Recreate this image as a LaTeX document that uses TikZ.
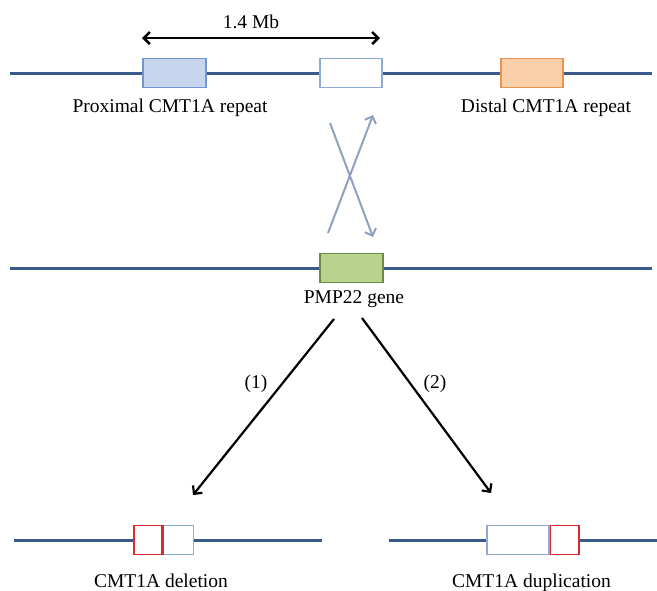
\documentclass[tikz,border=0pt]{standalone}
\usepackage{fontspec}
\setmainfont{Liberation Serif}
\usepackage{xcolor}
\usetikzlibrary{arrows.meta,positioning}

\definecolor{chromblue}{HTML}{3A5A8C}
\definecolor{proxfill}{HTML}{C6D6EF}
\definecolor{proxdraw}{HTML}{7196CF}
\definecolor{distfill}{HTML}{FBD0A9}
\definecolor{distdraw}{HTML}{E8944E}
\definecolor{genefill}{HTML}{B9D38F}
\definecolor{genedraw}{HTML}{6E8C3E}
\definecolor{crossgray}{HTML}{8FA0C0}
\definecolor{outblue}{HTML}{8EAAD6}
\definecolor{cutred}{HTML}{E0282E}

\begin{document}
\begin{tikzpicture}[
    x=1pt, y=-1pt,
    chrom/.style={chromblue, line width=3pt},
    gbox/.style={rectangle, inner sep=0pt, minimum height=29pt, line width=1.2pt},
    cross/.style={-{Straight Barb[length=6pt,width=12pt]}, crossgray, line width=2pt},
    split/.style={-{Straight Barb[length=6pt,width=12pt]}, black, line width=2.2pt},
    span/.style={{Straight Barb[length=6pt,width=12pt]}-{Straight Barb[length=6pt,width=12pt]}, black, line width=2.6pt},
    redge/.style={cutred, line width=2.4pt},
    lbl/.style={font=\fontsize{19.5}{22}\selectfont, anchor=base}
]
    \useasboundingbox (0,0) rectangle (657,590);

    % Top chromosome with the two repeats
    \coordinate (topL) at (10,73);
    \coordinate (topR) at (652,73);
    \node[gbox, minimum width=63pt, fill=proxfill, draw=proxdraw] (prox) at (174.5,73) {};
    \node[gbox, minimum width=62pt, fill=white, draw=outblue] (mid) at (351,73) {};
    \node[gbox, minimum width=62pt, fill=distfill, draw=distdraw] (dist) at (532,73) {};
    \draw[chrom] (topL) -- (prox) -- (mid) -- (dist) -- (topR);

    \node[lbl] (proxlbl) at (170,112) {Proximal CMT1A repeat};
    \node[lbl] (distlbl) at (546,112) {Distal CMT1A repeat};

    % Span of 1.4 Mb
    \coordinate (spanL) at (142,38);
    \coordinate (spanR) at (380,38);
    \draw[span] (spanL) -- (spanR);
    \node[lbl] (mb) at (251,28) {1.4 Mb};

    % Middle chromosome with PMP22
    \coordinate (midL) at (10,268);
    \coordinate (midR) at (652,268);
    \node[gbox, minimum width=63pt, fill=genefill, draw=genedraw] (pmp) at (351.5,268) {};
    \draw[chrom] (midL) -- (pmp) -- (midR);
    \node[lbl] (pmplbl) at (354,303) {PMP22 gene};

    % Crossing over
    \coordinate (c1s) at (330,123);
    \coordinate (c1e) at (373,237);
    \coordinate (c2s) at (328,233);
    \coordinate (c2e) at (373,115);
    \draw[cross] (c1s) -- (c1e);
    \draw[cross] (c2s) -- (c2e);

    % Outcomes
    \coordinate (a1s) at (334,319);
    \coordinate (a1e) at (193,495);
    \coordinate (a2s) at (362,318);
    \coordinate (a2e) at (491,493);
    \draw[split] (a1s) -- (a1e);
    \draw[split] (a2s) -- (a2e);
    \node[lbl] (one) at (256,388) {(1)};
    \node[lbl] (two) at (435,388) {(2)};

    % Deletion
    \coordinate (delL) at (14,540);
    \coordinate (delR) at (322,540);
    \node[gbox, minimum width=28pt, fill=white, draw=cutred] (del1) at (148,540) {};
    \node[gbox, minimum width=30pt, fill=white, draw=outblue, right=0pt of del1] (del2) {};
    \draw[chrom] (delL) -- (del1);
    \draw[chrom] (del2) -- (delR);
    \draw[redge] (del1.north east) -- (del1.south east);
    \node[lbl] (dellbl) at (161,587) {CMT1A deletion};

    % Duplication
    \coordinate (dupL) at (389,540);
    \coordinate (dupR) at (657,540);
    \node[gbox, minimum width=62pt, fill=white, draw=outblue] (dup1) at (518,540) {};
    \node[gbox, minimum width=28pt, fill=white, draw=cutred, right=0pt of dup1] (dup2) {};
    \draw[chrom] (dupL) -- (dup1);
    \draw[chrom] (dup2) -- (dupR);
    \draw[redge] (dup2.north east) -- (dup2.south east);
    \node[lbl] (duplbl) at (531.5,587) {CMT1A duplication};
\end{tikzpicture}
\end{document}
